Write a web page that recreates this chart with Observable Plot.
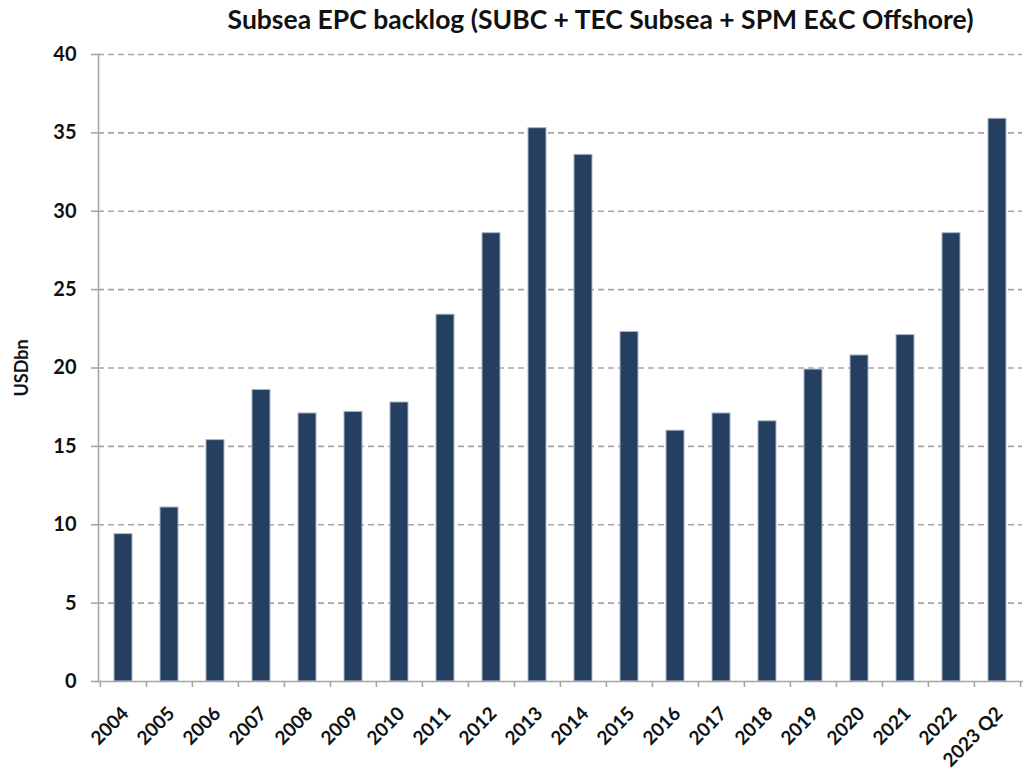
<!DOCTYPE html>
<html>
<head>
<meta charset="utf-8">
<script src="https://cdn.jsdelivr.net/npm/d3@7"></script>
<script src="https://cdn.jsdelivr.net/npm/@observablehq/plot@0.6"></script>
<style>
  html, body { margin: 0; padding: 0; background: #fff; }
  #title { height: 44px; line-height: 38px; font-family: Lato, sans-serif; font-weight: 700; font-size: 26.5px; color: #111; text-align: center; padding-left: 178px; box-sizing: border-box; width: 1023px; white-space: nowrap; }
  #chart svg { display: block; overflow: visible; }
</style>
</head>
<body>
<div id="title">Subsea EPC backlog (SUBC + TEC Subsea + SPM E&amp;C Offshore)</div>
<div id="chart"></div>
<script>
const categories = ["2004","2005","2006","2007","2008","2009","2010","2011","2012","2013","2014","2015","2016","2017","2018","2019","2020","2021","2022","2023 Q2"];
const backlog = [9.4, 11.1, 15.4, 18.6, 17.1, 17.2, 17.8, 23.4, 28.6, 35.3, 33.6, 22.3, 16.0, 17.1, 16.6, 19.9, 20.8, 22.1, 28.6, 35.9];
const yTicks = [0, 5, 10, 15, 20, 25, 30, 35, 40];
const yLabel = "USDbn";

const data = categories.map((c, i) => ({cat: c, value: backlog[i]}));

const W = 1023, H = 730, ML = 98, MR = 1;
const step = (W - ML - MR) / categories.length;
const gray = "#a6a6a6";

const chart = Plot.plot({
  width: W,
  height: H,
  marginTop: 10,
  marginBottom: 93,
  marginLeft: ML,
  marginRight: MR,
  style: {fontFamily: "Lato, sans-serif", fontWeight: "700", color: "#111", background: "#fff"},
  x: {domain: categories, paddingInner: 0.6, paddingOuter: 0.3, align: 0.5, label: null, axis: null},
  y: {domain: [0, 40], ticks: yTicks, label: null, axis: null},
  marks: [
    Plot.ruleY(yTicks.filter(t => t > 0), {stroke: gray, strokeWidth: 1.6, strokeDasharray: "6,4"}),
    Plot.barY(data, {x: "cat", y: "value", fill: "#243f60", stroke: "#a8b6ca", strokeWidth: 1}),
    Plot.frame({anchor: "left", stroke: gray, strokeWidth: 1.6}),
    Plot.frame({anchor: "bottom", stroke: gray, strokeWidth: 1.6}),
    Plot.axisY({ticks: yTicks, tickSize: 7, tickPadding: 15, fontSize: 20, stroke: gray, strokeWidth: 1.6, label: null}),
    Plot.text([yLabel], {frameAnchor: "left", text: d => d, rotate: -90, dx: -76, fontSize: 18, fontWeight: 700, fill: "#111", textAnchor: "middle", lineAnchor: "middle"}),
    Plot.axisX({tickSize: 6, tickFormat: () => "", dx: -step / 2, stroke: gray, strokeWidth: 1.6, label: null}),
    Plot.axisX({ticks: [categories[categories.length - 1]], tickSize: 6, tickFormat: () => "", dx: step / 2, stroke: gray, strokeWidth: 1.6, label: null}),
    Plot.text(categories, {x: d => d, text: d => d, frameAnchor: "bottom", rotate: -45, textAnchor: "end", lineAnchor: "middle", dx: 2, dy: 29, fontSize: 19, fontWeight: 700, fill: "#111"})
  ]
});
document.getElementById("chart").appendChild(chart);
</script>
</body>
</html>
